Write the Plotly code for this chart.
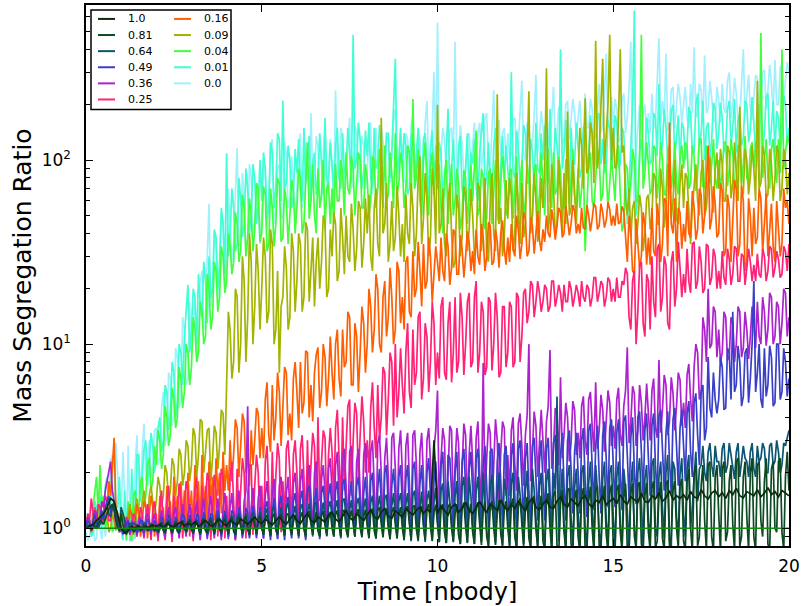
import numpy as np
import plotly.graph_objects as go

# snapshot times [nbody units]: the 1.0 run is stored every 0.1, the rest every 0.05
TIME_COARSE = np.round(np.arange(201) * 0.1, 2)
TIME_FINE = np.round(np.arange(401) * 0.05, 2)

# legend labels and line colours
LABELS = ["1.0", "0.81", "0.64", "0.49", "0.36", "0.25",
          "0.16", "0.09", "0.04", "0.01", "0.0"]
COLORS = ["#0a2a0c", "#0c4a22", "#0c5572", "#3a3fc8", "#ad22cf", "#ff2277",
          "#ff5f00", "#a3b400", "#40ff3c", "#40ffd4", "#a0f0ff"]

# mass segregation ratio of each run, one row per nbody time unit
s100 = [1.0, 1.02, 1.05, 1.1, 1.15, 1.2, 1.3, 1.45, 1.4, 1.2,
        1.0, 0.94, 0.97, 1.02, 1.0, 1.03, 0.99, 1.02, 1.01, 1.04,
        1.02, 1.05, 1.0, 1.06, 1.03, 1.01, 1.05, 1.08, 1.03, 1.06,
        1.04, 1.08, 1.02, 1.06, 1.1, 1.05, 1.02, 1.08, 1.12, 1.06,
        1.03, 1.1, 1.07, 1.04, 1.12, 1.08, 1.05, 1.1, 1.15, 1.09,
        1.06, 1.12, 1.08, 1.04, 1.1, 1.15, 1.09, 1.05, 1.12, 1.18,
        1.1, 1.06, 1.14, 1.2, 1.1, 1.07, 1.15, 1.12, 1.08, 1.18,
        1.22, 1.12, 1.08, 1.16, 1.25, 1.14, 1.1, 1.2, 1.15, 1.1,
        1.18, 1.26, 1.15, 1.12, 1.22, 1.28, 1.16, 1.13, 1.24, 1.2,
        1.15, 1.28, 1.22, 1.18, 1.25, 1.3, 1.2, 1.27, 1.22, 3.0,
        1.2, 1.32, 1.25, 1.18, 1.3, 1.35, 1.22, 1.28, 1.38, 1.25,
        1.2, 1.3, 1.4, 1.28, 1.22, 1.35, 1.3, 1.25, 1.42, 1.3,
        1.25, 1.35, 1.28, 1.4, 1.32, 1.24, 1.38, 1.45, 1.3, 1.26,
        1.35, 1.42, 1.3, 1.28, 1.4, 1.48, 1.35, 1.3, 1.44, 1.38,
        1.32, 1.45, 1.5, 1.36, 1.3, 1.42, 1.38, 1.5, 1.34, 1.4,
        1.45, 1.36, 1.52, 1.4, 1.35, 1.48, 1.42, 1.38, 1.55, 1.4,
        1.38, 1.5, 1.44, 1.56, 1.4, 1.46, 1.6, 1.42, 1.5, 1.45,
        1.52, 1.42, 1.58, 1.48, 1.45, 1.62, 1.5, 1.44, 1.55, 1.6,
        1.48, 1.56, 1.45, 1.6, 1.52, 1.65, 1.5, 1.46, 1.58, 1.54,
        1.5, 1.62, 1.48, 1.55, 1.66, 1.52, 1.58, 1.48, 1.6, 1.55, 1.5]

s081 = [
    1.0, 1.01, 1.02, 1.04, 1.05, 1.02, 1.0, 1.06, 1.1, 1.08, 1.05, 1.12, 1.2, 1.28, 1.3, 1.35, 1.25, 1.1, 1.0, 0.97,
    1.2, 1.05, 0.95, 0.93, 0.98, 1.02, 1.0, 0.96, 0.97, 1.03, 1.02, 0.97, 0.99, 1.04, 1.03, 0.97, 0.98, 1.04, 1.01, 0.97,
    1.0, 0.95, 1.04, 1.07, 0.97, 0.94, 1.06, 1.09, 0.99, 0.95, 1.03, 1.08, 0.96, 0.94, 1.05, 1.1, 1.0, 0.95, 1.08, 1.1,
    0.98, 0.94, 1.06, 1.1, 1.0, 0.93, 1.1, 1.12, 0.97, 0.94, 1.05, 1.11, 1.02, 0.93, 1.08, 1.13, 0.99, 0.94, 1.07, 1.12,
    1.0, 0.93, 1.1, 1.14, 0.96, 0.92, 1.08, 1.15, 1.02, 0.93, 1.12, 1.16, 0.98, 0.92, 1.06, 1.14, 1.03, 0.93, 1.1, 1.17,
    0.99, 0.92, 1.12, 1.18, 1.02, 0.91, 1.15, 1.2, 0.97, 0.92, 1.1, 1.19, 1.04, 0.91, 1.18, 1.2, 1.0, 0.92, 1.08, 1.18,
    1.02, 0.91, 1.15, 1.22, 0.98, 0.9, 1.2, 1.24, 1.05, 0.92, 1.1, 1.22, 0.96, 0.9, 1.17, 1.24, 1.03, 0.91, 1.12, 1.23,
    1.0, 0.9, 1.18, 1.25, 1.04, 0.9, 1.22, 1.26, 0.98, 0.89, 1.14, 1.25, 1.06, 0.9, 1.2, 1.27, 1.0, 0.89, 1.15, 1.26,
    1.03, 0.88, 1.2, 1.28, 0.97, 0.88, 1.25, 1.3, 1.05, 0.89, 1.16, 1.28, 1.0, 0.87, 1.22, 1.3, 1.04, 0.88, 1.18, 1.3,
    1.0, 0.86, 1.24, 1.32, 1.06, 0.86, 1.3, 1.33, 0.98, 0.85, 1.2, 1.32, 1.05, 0.86, 1.28, 1.35, 1.02, 0.85, 1.22, 1.34,
    1.05, 0.84, 1.25, 1.35, 0.95, 0.83, 1.3, 1.36, 1.0, 0.84, 1.2, 1.35, 0.92, 0.82, 1.28, 1.38, 1.02, 0.83, 1.22, 1.36,
    0.95, 0.82, 1.3, 1.38, 1.05, 0.81, 1.25, 1.4, 0.9, 0.8, 1.32, 1.4, 1.0, 0.81, 1.2, 1.42, 0.93, 0.8, 1.28, 1.4,
    1.0, 0.8, 1.35, 1.45, 0.9, 0.78, 1.3, 1.46, 1.05, 0.8, 1.25, 1.48, 0.88, 0.78, 1.4, 1.5, 0.98, 0.79, 1.3, 1.5,
    0.85, 0.76, 1.4, 1.55, 1.0, 0.75, 1.5, 1.6, 0.8, 0.74, 1.35, 1.62, 0.95, 0.76, 1.6, 1.65, 0.82, 0.75, 1.45, 1.62,
    0.9, 0.74, 1.5, 1.65, 0.78, 0.75, 1.4, 1.68, 1.0, 0.74, 1.6, 1.7, 0.8, 0.76, 1.45, 1.7, 0.92, 0.74, 1.55, 1.72,
    0.8, 0.74, 1.6, 1.72, 0.95, 0.75, 1.45, 1.74, 0.76, 0.74, 1.55, 1.75, 1.0, 0.76, 1.7, 1.78, 0.82, 0.74, 1.5, 1.76,
    0.95, 0.76, 1.65, 1.8, 0.78, 0.85, 1.5, 1.78, 0.88, 0.76, 1.75, 1.82, 0.8, 0.9, 1.6, 1.8, 1.0, 0.78, 1.7, 1.85,
    0.85, 0.76, 1.8, 2.1, 1.0, 0.75, 2.0, 2.2, 0.8, 0.9, 1.7, 2.2, 1.1, 0.76, 2.2, 2.3, 0.9, 0.75, 1.9, 2.2,
    1.2, 0.75, 2.1, 2.3, 0.85, 0.95, 1.8, 2.2, 1.05, 0.76, 2.3, 2.4, 0.8, 0.9, 1.9, 2.3, 1.15, 0.76, 2.0, 2.4,
    0.9, 0.76, 2.2, 2.3, 1.1, 0.9, 1.8, 2.4, 0.82, 0.75, 2.1, 2.3, 1.0, 0.95, 2.3, 2.4, 0.95, 0.76, 1.9, 2.6, 1.6]

s064 = [
    1.0, 1.03, 1.05, 0.98, 1.0, 1.08, 1.1, 1.0, 1.05, 1.15, 1.2, 1.25, 1.3, 1.2, 1.15, 1.3, 1.4, 1.2, 1.1, 0.97,
    1.3, 1.2, 1.1, 0.95, 1.0, 1.06, 1.05, 0.95, 0.98, 1.04, 1.02, 0.96, 1.0, 1.07, 1.05, 0.97, 1.0, 1.06, 1.03, 0.96,
    1.0, 0.95, 1.04, 1.08, 0.98, 0.94, 1.06, 1.1, 1.0, 0.95, 1.03, 1.09, 0.97, 0.94, 1.05, 1.1, 1.01, 0.95, 1.07, 1.12,
    1.02, 0.94, 1.08, 1.12, 1.0, 0.93, 1.06, 1.14, 0.98, 0.93, 1.1, 1.15, 1.03, 0.94, 1.07, 1.16, 1.0, 0.93, 1.12, 1.18,
    1.04, 0.94, 1.1, 1.18, 1.0, 0.92, 1.14, 1.2, 1.05, 0.94, 1.08, 1.2, 1.02, 0.92, 1.15, 1.22, 1.06, 0.94, 1.1, 1.22,
    1.08, 0.93, 1.2, 1.28, 1.02, 0.92, 1.25, 1.3, 1.1, 0.94, 1.15, 1.3, 1.0, 0.92, 1.3, 1.35, 1.12, 0.94, 1.18, 1.32,
    1.1, 0.93, 1.28, 1.35, 1.05, 0.92, 1.22, 1.36, 1.15, 0.95, 1.35, 1.38, 1.08, 0.92, 1.2, 1.38, 1.12, 0.94, 1.3, 1.4,
    1.15, 0.92, 1.3, 1.42, 1.05, 0.9, 1.4, 1.45, 1.12, 0.93, 1.25, 1.42, 1.1, 0.9, 1.35, 1.46, 1.18, 0.92, 1.28, 1.45,
    1.12, 0.9, 1.38, 1.5, 1.08, 0.88, 1.3, 1.5, 1.2, 0.9, 1.45, 1.52, 1.1, 0.87, 1.32, 1.55, 1.15, 0.88, 1.4, 1.55,
    1.2, 0.86, 1.35, 1.55, 1.1, 0.85, 1.5, 1.6, 1.15, 0.87, 1.3, 1.58, 1.05, 0.84, 1.42, 1.6, 1.22, 0.86, 1.38, 1.65,
    1.1, 0.84, 1.6, 1.75, 1.0, 0.83, 1.8, 1.4, 1.2, 0.85, 1.5, 1.8, 0.95, 0.82, 1.7, 1.9, 1.15, 0.84, 1.9, 1.5,
    1.05, 0.82, 1.6, 1.9, 1.2, 0.84, 2.0, 1.4, 0.98, 0.8, 1.7, 1.95, 1.25, 0.83, 1.55, 2.0, 1.0, 0.81, 1.85, 1.6,
    1.15, 0.8, 1.75, 2.0, 0.95, 0.78, 1.9, 1.5, 1.2, 0.82, 1.6, 2.05, 1.05, 0.8, 2.1, 1.6, 1.1, 0.79, 1.7, 2.0,
    1.0, 0.78, 1.8, 2.1, 1.25, 0.8, 2.0, 1.6, 5.2, 0.85, 1.5, 2.1, 1.05, 0.78, 1.9, 2.2, 1.15, 0.8, 1.65, 2.1,
    1.2, 0.78, 2.0, 2.2, 1.0, 0.77, 1.75, 2.3, 1.3, 0.8, 2.2, 1.6, 0.95, 0.78, 1.85, 2.3, 1.1, 0.8, 2.0, 2.2,
    1.15, 0.78, 1.9, 2.3, 1.05, 0.8, 2.1, 1.6, 1.25, 0.78, 1.7, 2.3, 0.9, 0.79, 2.0, 2.4, 1.2, 0.8, 1.85, 2.2,
    1.1, 0.85, 2.2, 2.4, 1.0, 0.9, 1.9, 2.3, 1.3, 0.88, 2.0, 2.5, 0.85, 0.78, 2.3, 2.1, 1.15, 0.9, 1.95, 2.4,
    1.2, 0.9, 2.1, 2.5, 1.0, 1.3, 1.9, 2.6, 1.4, 2.1, 2.2, 2.8, 2.0, 1.8, 2.6, 2.9, 2.2, 1.9, 2.8, 2.3,
    2.3, 1.9, 2.7, 2.9, 2.0, 2.2, 2.9, 2.5, 2.2, 1.85, 2.6, 2.9, 1.9, 2.3, 2.8, 2.4, 2.3, 1.9, 2.6, 2.9,
    2.1, 1.9, 2.8, 2.3, 2.4, 2.9, 2.7, 2.0, 2.0, 2.8, 2.9, 2.2, 2.3, 3.0, 2.6, 2.0, 2.2, 2.9, 2.8, 3.1, 3.4]

s049 = [
    1.0, 1.1, 1.05, 0.97, 1.1, 1.2, 1.0, 1.05, 1.15, 1.25, 1.1, 1.3, 1.4, 1.5, 1.2, 1.35, 1.3, 1.1, 1.1, 0.98,
    1.0, 0.93, 0.95, 1.05, 1.1, 0.96, 1.0, 1.08, 1.05, 0.94, 0.98, 1.1, 1.1, 0.95, 1.02, 1.12, 1.08, 0.96, 1.0, 1.1,
    1.05, 0.94, 0.98, 1.15, 1.1, 0.95, 1.02, 1.18, 1.12, 0.93, 1.0, 1.15, 1.08, 0.94, 1.04, 1.2, 1.15, 0.95, 1.0, 1.18,
    1.08, 0.93, 1.02, 1.2, 1.15, 0.92, 1.05, 1.22, 1.1, 0.9, 0.98, 1.2, 1.18, 0.92, 1.06, 1.25, 1.12, 0.9, 1.03, 1.24,
    1.1, 0.9, 1.04, 1.25, 1.2, 0.88, 1.08, 1.3, 1.15, 0.9, 1.0, 1.28, 1.22, 0.88, 1.1, 1.32, 1.16, 0.9, 1.05, 1.3,
    1.12, 0.88, 1.3, 1.4, 1.05, 0.86, 1.25, 1.45, 1.1, 0.87, 1.35, 1.5, 1.08, 0.86, 1.28, 1.48, 1.15, 0.88, 1.4, 1.55,
    1.2, 0.88, 1.45, 1.6, 1.1, 0.86, 1.6, 1.7, 1.25, 0.9, 1.4, 1.65, 1.15, 0.87, 1.55, 1.7, 1.3, 0.9, 1.5, 1.75,
    1.25, 0.9, 1.6, 1.8, 1.15, 0.88, 1.75, 1.85, 1.3, 0.92, 1.5, 1.8, 1.2, 0.9, 1.7, 1.9, 1.35, 0.92, 1.55, 1.9,
    1.3, 0.9, 1.8, 2.0, 1.2, 0.88, 1.65, 2.1, 1.4, 0.92, 2.0, 2.2, 1.25, 0.9, 1.7, 2.1, 1.45, 0.94, 1.9, 2.2,
    1.35, 0.92, 1.85, 2.2, 1.3, 0.9, 2.1, 2.3, 1.4, 0.95, 1.75, 2.2, 1.3, 0.92, 2.0, 2.4, 1.5, 0.96, 1.8, 2.3,
    1.5, 0.95, 2.2, 2.6, 1.35, 0.92, 2.5, 2.4, 1.6, 0.98, 2.0, 2.6, 1.4, 0.94, 2.3, 2.7, 1.7, 1.0, 2.1, 2.6,
    1.6, 0.96, 2.4, 2.7, 1.45, 0.94, 2.2, 2.8, 1.7, 1.0, 2.6, 2.7, 1.5, 0.96, 2.3, 2.9, 1.8, 1.02, 2.5, 2.8,
    1.7, 1.0, 2.5, 2.9, 1.5, 0.97, 2.7, 3.0, 1.8, 1.05, 2.4, 2.9, 1.6, 1.0, 2.8, 3.1, 1.9, 1.1, 2.3, 3.0,
    1.8, 1.1, 2.7, 3.1, 1.6, 1.05, 2.9, 3.2, 2.0, 1.15, 2.5, 3.3, 1.7, 1.1, 3.0, 3.4, 2.1, 1.2, 2.6, 3.3,
    2.0, 1.2, 3.0, 3.5, 1.8, 1.15, 3.4, 3.7, 2.2, 1.25, 2.8, 3.6, 1.9, 1.2, 3.2, 3.8, 2.4, 1.3, 3.5, 3.9,
    2.2, 1.3, 3.3, 3.9, 2.0, 1.25, 3.8, 4.1, 2.5, 1.4, 3.1, 4.0, 2.1, 1.35, 4.0, 4.3, 2.6, 1.5, 3.4, 4.2,
    2.4, 1.5, 3.6, 4.2, 2.2, 1.45, 4.1, 4.4, 2.7, 1.6, 3.3, 4.3, 2.3, 1.55, 3.9, 4.5, 2.8, 1.7, 3.5, 4.4,
    2.8, 1.8, 4.2, 4.9, 2.6, 1.9, 4.8, 5.4, 3.2, 2.2, 5.5, 6.0, 3.0, 3.5, 8.5, 4.5, 4.0, 7.0, 5.0, 4.2,
    5.0, 8.5, 7.5, 4.4, 4.5, 9.5, 9.0, 5.0, 15, 5.5, 6.0, 9.8, 8.0, 4.6, 5.2, 9.0, 9.5, 4.8, 6.5, 10,
    22, 5.5, 7.0, 10, 5.0, 4.5, 9.5, 5.2, 6.0, 9.8, 8.5, 4.6, 4.8, 10, 10, 5.0, 5.5, 9.5, 8.0, 5.2, 6.5]

s036 = [
    1.0, 1.15, 1.1, 0.98, 1.05, 1.25, 1.2, 1.05, 1.1, 1.4, 1.3, 1.6, 1.8, 2.1, 2.3, 1.6, 1.4, 1.2, 1.1, 0.95,
    1.0, 0.95, 1.05, 1.1, 1.0, 0.93, 1.1, 1.05, 1.05, 0.92, 1.1, 1.15, 1.0, 0.9, 1.15, 1.2, 1.05, 0.92, 1.1, 1.2,
    1.0, 0.9, 1.1, 1.25, 1.05, 0.88, 1.15, 1.3, 1.0, 0.9, 1.2, 1.3, 1.1, 0.88, 1.15, 1.35, 1.05, 0.9, 1.2, 1.35,
    1.1, 0.88, 1.2, 1.4, 1.05, 0.86, 1.25, 1.45, 1.1, 0.87, 1.3, 1.5, 1.15, 0.88, 1.2, 1.45, 1.1, 0.86, 1.3, 1.55,
    1.15, 0.87, 1.3, 1.55, 1.1, 0.86, 1.35, 1.6, 1.2, 0.88, 1.4, 1.6, 4.6, 0.9, 1.3, 1.65, 1.25, 0.88, 1.45, 1.7,
    1.2, 0.88, 1.5, 1.8, 1.3, 0.9, 1.6, 1.85, 1.25, 0.88, 1.7, 1.9, 1.35, 0.92, 1.55, 1.9, 1.3, 0.9, 1.75, 2.0,
    1.4, 0.9, 1.8, 2.1, 1.3, 0.88, 1.9, 2.2, 1.5, 0.92, 2.0, 2.3, 1.45, 0.9, 1.85, 2.2, 1.6, 0.95, 2.1, 2.4,
    1.6, 0.92, 2.2, 2.6, 1.5, 0.9, 2.4, 2.7, 1.7, 0.95, 2.6, 2.8, 1.8, 0.93, 2.3, 2.7, 1.6, 0.95, 2.5, 2.9,
    1.8, 0.95, 2.6, 3.0, 1.7, 0.92, 2.9, 3.2, 2.0, 1.0, 2.4, 3.1, 1.9, 0.96, 3.1, 3.3, 2.1, 1.0, 2.7, 3.4,
    2.0, 1.0, 2.8, 3.3, 1.8, 0.96, 3.2, 3.4, 2.2, 1.05, 2.6, 3.3, 1.9, 1.0, 3.0, 3.5, 2.3, 1.1, 2.7, 3.4,
    5.6, 1.3, 2.4, 3.5, 3.0, 1.1, 2.0, 3.6, 3.4, 1.2, 2.2, 3.5, 2.9, 1.15, 2.1, 3.7, 3.2, 1.25, 2.5, 3.6,
    2.3, 1.2, 3.1, 3.8, 2.0, 1.3, 7.9, 1.4, 2.4, 3.7, 3.3, 1.25, 2.2, 3.9, 3.0, 1.35, 2.6, 3.8, 3.5, 1.5,
    2.5, 1.5, 3.4, 4.0, 2.2, 1.6, 3.7, 4.2, 2.8, 1.7, 3.2, 4.1, 10, 1.8, 2.6, 4.3, 3.6, 1.9, 2.9, 4.4,
    3.0, 2.0, 3.8, 4.6, 9.3, 2.1, 2.7, 4.5, 4.2, 2.2, 6.6, 2.4, 3.2, 4.8, 4.0, 2.3, 2.9, 4.9, 4.4, 2.5,
    3.3, 2.4, 4.6, 5.2, 3.0, 2.5, 5.0, 5.5, 3.6, 2.6, 6.2, 2.7, 3.4, 5.3, 4.4, 2.6, 3.8, 5.6, 4.8, 2.8,
    3.6, 2.7, 5.0, 5.8, 3.2, 2.8, 4.6, 5.6, 9.6, 2.9, 3.8, 5.9, 5.4, 2.8, 3.4, 6.0, 4.8, 3.0, 4.0, 6.1,
    4.2, 3.0, 5.6, 6.5, 3.5, 3.1, 8.2, 3.3, 4.4, 6.8, 6.0, 3.2, 3.8, 6.6, 5.4, 3.4, 4.6, 7.0, 6.4, 3.6,
    4.8, 3.5, 6.8, 7.8, 5.0, 3.8, 7.5, 10, 9.0, 5.0, 5.5, 14, 12, 8.0, 20, 9.5, 10, 16, 15, 8.5,
    12, 8.0, 9.0, 15, 14, 8.2, 8.5, 14, 13, 8.0, 10, 16, 15, 8.5, 9.5, 15, 12, 8.3, 11, 16,
    13, 9.5, 17, 11, 10, 18, 15, 9.8, 12, 19, 18, 10, 11, 17, 16, 10, 13, 20, 19, 11, 14]

s025 = [
    1.0, 1.2, 1.1, 1.45, 1.2, 1.0, 1.1, 1.35, 1.3, 1.05, 1.2, 1.5, 1.4, 1.1, 1.1, 1.3, 1.3, 1.0, 1.0, 1.15,
    1.0, 0.95, 1.05, 1.15, 1.1, 0.92, 1.0, 1.2, 1.15, 0.9, 1.05, 1.3, 1.2, 0.88, 1.1, 1.35, 1.15, 0.86, 1.25, 1.4,
    1.1, 0.85, 1.3, 1.6, 1.0, 0.86, 1.4, 1.7, 1.15, 0.84, 1.5, 1.0, 1.2, 1.75, 1.4, 0.88, 1.3, 1.8, 1.6, 0.9,
    1.3, 0.85, 1.6, 1.9, 1.2, 0.87, 1.7, 1.0, 1.4, 2.0, 1.8, 0.86, 1.3, 1.95, 1.6, 0.9, 1.5, 2.1, 1.9, 0.88,
    1.5, 0.9, 1.9, 2.3, 1.4, 0.86, 2.1, 1.1, 1.6, 2.4, 2.0, 0.88, 1.5, 2.2, 2.2, 0.92, 1.7, 2.5, 2.0, 1.0,
    1.7, 0.95, 2.3, 2.8, 1.6, 0.9, 2.6, 1.2, 1.9, 2.9, 2.4, 0.95, 1.8, 1.1, 2.7, 3.0, 2.0, 1.0, 2.5, 3.0,
    2.0, 1.05, 2.7, 3.2, 1.9, 1.0, 3.0, 1.3, 2.2, 3.3, 2.8, 1.1, 4.0, 1.4, 2.3, 3.4, 3.1, 1.2, 2.5, 3.5,
    2.6, 1.4, 3.5, 4.4, 2.4, 1.3, 4.0, 1.6, 2.8, 4.6, 5.0, 1.5, 3.0, 4.8, 4.2, 1.8, 3.2, 5.2, 3.8, 2.0,
    3.0, 2.0, 4.5, 6.2, 3.5, 2.4, 6.0, 3.0, 4.0, 7.5, 7.0, 3.2, 5.0, 9.0, 8.0, 3.6, 10, 4.0, 5.5, 9.5,
    6.0, 4.2, 9.0, 13, 5.5, 4.5, 12, 6.0, 7.0, 14, 15, 5.0, 6.5, 13, 11, 5.5, 8.0, 17, 13, 6.0,
    9.0, 6.5, 16, 18, 7.0, 6.4, 13, 17, 6.2, 9.0, 18, 7.0, 8.0, 19, 14, 6.8, 10, 17, 19, 7.5,
    8.0, 18, 22, 7.0, 9.0, 17, 15, 6.8, 7.5, 18, 17, 7.2, 10, 19, 14, 6.6, 7.0, 16, 16, 7.5,
    9.0, 17, 16, 7.5, 8.0, 19, 18, 8.0, 11, 19, 20, 13, 15, 22, 21, 14, 17, 22, 19, 15,
    17, 21, 20, 15, 16, 22, 22, 16, 18, 21, 19, 15, 21, 17, 17, 22, 20, 16, 18, 21,
    19, 16, 22, 18, 17, 21, 20, 16, 18, 23, 23, 17, 19, 22, 21, 16, 18, 23, 22, 17,
    20, 17, 23, 18, 18, 22, 21, 26, 24, 14, 12, 22, 25, 10, 15, 27, 28, 13, 11, 24,
    22, 12, 30, 17, 14, 33, 35, 15, 18, 30, 27, 13, 12, 28, 32, 16, 20, 36, 26, 18,
    24, 19, 33, 22, 19, 35, 36, 20, 22, 34, 28, 19, 20, 35, 34, 21, 23, 33, 30, 20,
    25, 20, 32, 23, 21, 33, 29, 21, 24, 34, 33, 22, 22, 31, 30, 21, 26, 33, 28, 22,
    27, 22, 31, 24, 23, 33, 30, 22, 25, 34, 33, 23, 26, 32, 29, 23, 24, 34, 32, 25, 35]

s016 = [
    1.0, 1.15, 1.1, 0.95, 1.0, 1.3, 1.2, 1.0, 1.1, 1.4, 1.3, 1.1, 1.2, 1.8, 1.5, 2.2, 3.1, 1.3, 1.2, 0.95,
    1.0, 1.1, 1.1, 0.95, 1.0, 1.25, 1.2, 0.92, 1.1, 1.35, 1.2, 0.9, 1.1, 1.4, 1.3, 0.88, 1.2, 1.5, 1.3, 0.9,
    1.2, 0.86, 1.5, 1.0, 1.3, 0.88, 1.7, 1.1, 1.4, 0.9, 1.9, 1.2, 1.5, 0.92, 1.8, 1.15, 1.6, 0.95, 2.0, 1.2,
    1.6, 1.0, 2.2, 1.2, 1.8, 0.92, 2.5, 1.3, 1.7, 1.05, 2.3, 1.4, 1.9, 1.1, 2.4, 1.5, 2.0, 1.2, 2.6, 1.6,
    2.2, 1.6, 3.0, 1.8, 2.5, 3.9, 3.5, 1.9, 2.8, 4.2, 3.8, 2.0, 2.6, 1.7, 3.4, 2.2, 3.0, 4.5, 4.2, 2.4,
    3.5, 2.4, 5.0, 6.2, 3.2, 2.6, 6.0, 3.0, 4.0, 7.0, 5.5, 2.8, 4.5, 7.5, 7.0, 3.2, 4.2, 3.0, 6.5, 8.0,
    5.5, 3.5, 8.0, 4.2, 4.8, 9.2, 9.0, 4.0, 6.0, 3.8, 7.0, 8.8, 9.6, 4.5, 5.5, 10, 8.5, 4.6, 6.5, 11,
    7.0, 5.0, 10, 12, 6.5, 5.2, 12, 7.5, 8.0, 15, 14, 6.0, 6.0, 13, 11, 5.5, 9.0, 16, 13, 7.0,
    10, 20, 16, 9.0, 12, 24, 20, 10, 9.0, 18, 22, 11, 14, 26, 18, 10, 12, 28, 25, 13,
    18, 12, 28, 30, 15, 14, 32, 18, 20, 36, 25, 16, 35, 20, 22, 38, 30, 17, 24, 34,
    28, 22, 38, 25, 22, 40, 34, 21, 26, 42, 40, 24, 24, 39, 33, 23, 30, 41, 36, 25,
    32, 24, 42, 30, 27, 45, 38, 25, 30, 46, 44, 27, 28, 42, 36, 26, 40, 47, 33, 27,
    38, 28, 45, 33, 30, 50, 42, 29, 35, 52, 48, 30, 32, 49, 44, 31, 40, 53, 37, 32,
    42, 36, 50, 40, 38, 54, 46, 37, 44, 55, 52, 38, 40, 56, 48, 39, 45, 57, 53, 40,
    45, 40, 55, 43, 42, 57, 50, 41, 48, 58, 56, 42, 44, 58, 52, 43, 47, 59, 54, 44,
    50, 44, 58, 45, 46, 56, 53, 40, 28, 50, 40, 25, 24, 48, 35, 26, 30, 52, 45, 27,
    38, 27, 55, 32, 30, 58, 48, 28, 35, 62, 60, 30, 160, 45, 40, 62, 28, 55, 52, 33,
    45, 36, 60, 40, 38, 68, 55, 37, 42, 70, 65, 40, 50, 75, 120, 42, 48, 72, 58, 38,
    40, 75, 68, 30, 32, 65, 55, 28, 45, 78, 70, 30, 35, 72, 60, 25, 28, 62, 50, 30,
    55, 35, 38, 70, 62, 32, 45, 66, 30, 40, 58, 34, 28, 60, 42, 30, 35, 70, 55, 60, 45]

s009 = [
    1.0, 1.15, 1.1, 0.95, 1.2, 1.3, 1.0, 1.1, 1.3, 1.05, 1.1, 1.25, 1.2, 0.95, 1.0, 1.2, 1.1, 0.97, 1.2, 1.05,
    1.0, 1.2, 1.1, 0.95, 1.2, 1.35, 1.1, 1.0, 1.3, 1.45, 1.2, 1.05, 1.4, 1.6, 1.3, 1.1, 1.5, 1.7, 1.4, 1.2,
    1.4, 1.9, 1.7, 1.3, 1.5, 2.2, 2.0, 1.4, 1.6, 2.4, 2.2, 1.5, 1.8, 2.7, 2.5, 1.7, 2.0, 3.0, 2.8, 1.8,
    2.2, 3.5, 3.2, 1.9, 2.5, 3.9, 3.8, 2.0, 2.6, 3.4, 3.5, 1.8, 2.4, 3.6, 3.3, 2.1, 2.8, 4.4, 4.2, 2.5,
    6.0, 15, 12, 6.5, 8.0, 20, 18, 7.0, 10, 30, 22, 8.0, 14, 40, 28, 10, 16, 35, 25, 12,
    20, 38, 30, 13, 15, 42, 35, 10, 12, 25, 7.0, 16, 18, 34, 26, 12, 14, 40, 32, 15,
    22, 40, 35, 15, 18, 46, 42, 17, 25, 38, 16, 28, 38, 20, 28, 50, 45, 18, 20, 42,
    30, 52, 45, 22, 25, 55, 38, 24, 50, 30, 28, 58, 42, 25, 33, 60, 55, 26, 35, 62,
    40, 65, 30, 25, 55, 70, 35, 30, 170, 40, 45, 75, 28, 35, 60, 32, 38, 72, 50, 30,
    45, 28, 65, 40, 35, 75, 55, 30, 40, 80, 105, 35, 48, 85, 60, 30, 38, 90, 70, 35,
    200, 40, 45, 70, 35, 30, 60, 75, 40, 26, 28, 65, 55, 30, 38, 72, 65, 32, 42, 70,
    50, 30, 35, 75, 70, 32, 45, 80, 30, 28, 60, 85, 40, 32, 228, 45, 55, 30, 38, 78,
    48, 80, 65, 32, 40, 85, 55, 35, 75, 38, 45, 90, 237, 40, 50, 85, 60, 36, 42, 80,
    55, 90, 316, 42, 50, 95, 70, 40, 45, 100, 60, 40, 85, 45, 184, 50, 55, 100, 65, 45,
    80, 150, 120, 70, 217, 85, 90, 160, 140, 75, 445, 90, 110, 180, 355, 95, 130, 200, 480, 100,
    150, 90, 95, 170, 400, 110, 120, 60, 50, 70, 38, 55, 60, 35, 45, 65, 55, 32, 40, 62,
    65, 42, 50, 85, 80, 45, 45, 90, 70, 43, 55, 95, 90, 48, 60, 100, 48, 45, 75, 95,
    55, 85, 80, 50, 35, 55, 70, 95, 60, 50, 85, 100, 50, 55, 75, 105, 65, 52, 90, 110,
    70, 115, 95, 60, 60, 120, 110, 62, 75, 125, 85, 60, 195, 70, 65, 115, 100, 65, 80, 120,
    90, 60, 270, 70, 75, 120, 105, 62, 65, 115, 95, 60, 80, 120, 110, 60, 70, 115, 100, 65, 85]

s004 = [
    1.0, 1.15, 1.1, 1.0, 1.3, 1.6, 1.9, 1.2, 2.2, 1.3, 1.5, 1.0, 1.1, 1.4, 1.3, 0.95, 1.0, 1.25, 1.2, 1.0,
    0.95, 1.2, 1.1, 0.86, 1.4, 1.0, 0.85, 1.5, 1.6, 0.9, 1.2, 1.8, 1.9, 1.3, 1.5, 2.2, 2.4, 1.6, 1.8, 2.8,
    2.2, 3.4, 3.0, 2.1, 2.5, 4.6, 4.0, 2.8, 3.2, 5.8, 5.0, 3.5, 4.0, 7.5, 6.5, 4.5, 5.5, 10, 9.0, 6.0,
    7.5, 14, 12, 8.0, 9.0, 17, 15, 10, 11, 24, 20, 12, 14, 28, 25, 15, 18, 34, 30, 19,
    22, 40, 35, 24, 28, 52, 45, 28, 32, 65, 55, 30, 38, 62, 50, 32, 42, 75, 70, 36,
    40, 72, 65, 32, 35, 70, 55, 34, 45, 80, 75, 36, 38, 70, 60, 35, 50, 78, 68, 40,
    55, 90, 80, 40, 45, 85, 125, 48, 60, 95, 50, 40, 90, 55, 65, 100, 42, 70, 75, 45,
    70, 45, 95, 60, 60, 100, 85, 50, 110, 70, 65, 105, 90, 50, 75, 110, 100, 55, 55, 95,
    80, 50, 60, 105, 100, 55, 70, 115, 90, 55, 120, 60, 65, 110, 85, 55, 140, 65, 75, 110,
    95, 55, 70, 120, 110, 60, 215, 70, 80, 115, 60, 50, 100, 125, 75, 50, 90, 110, 65, 100,
    70, 95, 55, 40, 85, 100, 45, 70, 95, 50, 60, 90, 75, 42, 50, 88, 80, 45, 65, 95,
    60, 95, 145, 50, 55, 90, 80, 42, 48, 85, 90, 45, 65, 100, 50, 45, 75, 105, 85, 50,
    55, 85, 90, 48, 70, 105, 45, 65, 100, 50, 60, 95, 80, 45, 50, 90, 95, 50, 65, 110,
    75, 50, 95, 115, 60, 55, 110, 65, 70, 105, 85, 55, 55, 100, 100, 58, 80, 115, 65, 55,
    90, 55, 70, 100, 32, 60, 95, 110, 60, 55, 80, 115, 105, 60, 65, 110, 85, 55, 75, 105,
    80, 60, 110, 120, 65, 41, 45, 95, 90, 60, 75, 115, 100, 60, 60, 105, 480, 70, 85, 125,
    95, 65, 70, 120, 115, 62, 80, 125, 100, 65, 65, 115, 120, 70, 85, 125, 75, 65, 105, 120,
    90, 125, 120, 70, 75, 120, 105, 68, 85, 130, 130, 72, 70, 120, 110, 75, 95, 130, 80, 70,
    100, 70, 85, 125, 125, 72, 90, 130, 110, 70, 75, 120, 120, 75, 95, 135, 80, 75, 115, 125,
    90, 125, 120, 75, 490, 80, 100, 130, 80, 70, 115, 130, 95, 75, 130, 85, 400, 90, 110, 135, 125]

s001 = [
    1.0, 1.2, 1.1, 0.9, 0.95, 1.4, 1.3, 1.1, 1.5, 1.0, 1.2, 1.7, 1.9, 1.2, 1.4, 2.5, 2.2, 1.3, 1.3, 1.9,
    1.0, 0.86, 1.6, 1.1, 1.2, 0.85, 2.1, 1.3, 0.88, 2.5, 2.5, 1.4, 1.9, 2.7, 3.0, 1.7, 2.3, 3.3, 2.8, 2.0,
    2.5, 3.5, 4.0, 2.6, 3.0, 6.0, 5.5, 3.4, 4.2, 8.0, 7.0, 4.0, 5.0, 10, 9.0, 6.0, 11, 16, 21, 9.0,
    12, 20, 18, 10, 24, 16, 14, 28, 22, 13, 30, 18, 20, 42, 38, 20, 28, 55, 45, 24,
    109, 30, 40, 70, 55, 32, 35, 80, 62, 38, 45, 90, 70, 40, 50, 95, 80, 45, 58, 100,
    60, 110, 90, 48, 55, 125, 110, 55, 70, 140, 130, 60, 210, 70, 75, 120, 100, 55, 65, 115,
    85, 130, 70, 60, 150, 75, 90, 135, 60, 95, 110, 65, 80, 140, 100, 65, 170, 80, 75, 125,
    95, 65, 120, 150, 80, 70, 140, 85, 90, 150, 110, 75, 480, 90, 100, 160, 130, 70, 85, 145,
    105, 160, 80, 70, 150, 90, 95, 155, 120, 75, 85, 140, 140, 80, 110, 180, 355, 85, 100, 150,
    90, 140, 120, 65, 70, 135, 140, 75, 100, 150, 85, 60, 130, 140, 95, 65, 110, 145, 75, 120,
    80, 125, 110, 60, 65, 115, 190, 70, 90, 130, 75, 55, 120, 135, 70, 60, 100, 140, 60, 110,
    95, 130, 70, 60, 110, 140, 180, 70, 80, 125, 65, 60, 120, 150, 85, 65, 100, 135, 75, 120,
    90, 65, 300, 85, 80, 145, 120, 70, 95, 155, 140, 75, 75, 130, 110, 70, 160, 90, 85, 140,
    100, 155, 130, 75, 190, 85, 90, 150, 120, 80, 400, 90, 110, 165, 80, 75, 150, 95, 95, 160,
    120, 80, 90, 150, 160, 85, 110, 175, 140, 90, 100, 170, 180, 95, 130, 85, 90, 165, 150, 90,
    110, 175, 160, 90, 95, 150, 140, 80, 45, 70, 120, 200, 650, 50, 60, 110, 130, 85, 100, 170,
    140, 95, 100, 180, 170, 105, 260, 110, 120, 190, 150, 100, 110, 185, 200, 105, 130, 175, 95, 160,
    150, 100, 120, 195, 180, 110, 110, 200, 230, 120, 140, 210, 100, 150, 160, 105, 130, 205, 190, 115,
    140, 205, 170, 110, 120, 190, 210, 120, 150, 215, 110, 165, 180, 120, 130, 210, 200, 125, 145, 220,
    160, 110, 120, 200, 190, 115, 140, 220, 230, 120, 150, 210, 110, 185, 170, 115, 130, 225, 200, 120, 150]

s000 = [
    0.95, 0.86, 0.9, 1.05, 1.1, 0.85, 0.88, 1.15, 1.0, 0.87, 1.2, 0.9, 1.1, 1.5, 2.4, 1.0, 1.3, 2.9, 2.0, 1.2,
    1.1, 2.6, 1.5, 0.85, 2.8, 1.2, 1.3, 0.86, 2.2, 3.2, 1.6, 1.4, 2.6, 3.7, 1.8, 2.4, 3.0, 1.9, 2.2, 3.4,
    3.5, 2.2, 2.4, 4.5, 5.5, 2.8, 3.2, 7.0, 6.5, 3.6, 4.0, 9.5, 8.5, 4.5, 5.0, 14, 12, 6.0, 6.5, 17,
    9.0, 13, 18, 8.0, 11, 22, 25, 12, 14, 30, 58, 16, 20, 40, 35, 18, 24, 50, 45, 22,
    32, 70, 48, 28, 36, 60, 116, 34, 40, 85, 62, 30, 38, 95, 80, 40, 45, 75, 55, 35,
    50, 100, 85, 42, 60, 120, 130, 45, 55, 90, 95, 50, 48, 125, 110, 55, 62, 105, 75, 48,
    70, 115, 140, 55, 65, 125, 100, 60, 180, 80, 72, 135, 120, 58, 60, 110, 150, 65, 85, 130,
    90, 60, 240, 85, 80, 150, 130, 65, 95, 120, 170, 70, 75, 155, 140, 75, 100, 135, 120, 70,
    85, 140, 160, 65, 110, 150, 95, 70, 150, 125, 80, 135, 130, 75, 105, 165, 190, 80, 90, 140,
    110, 75, 140, 130, 85, 155, 175, 80, 100, 145, 130, 70, 90, 160, 210, 85, 120, 150, 300, 95,
    560, 95, 110, 150, 130, 80, 90, 145, 150, 100, 440, 90, 100, 155, 120, 85, 85, 130, 140, 95,
    120, 160, 95, 140, 160, 90, 110, 170, 180, 95, 90, 150, 240, 100, 130, 165, 105, 140, 150, 100,
    140, 100, 110, 165, 170, 105, 125, 180, 270, 110, 100, 160, 150, 115, 120, 175, 290, 110, 135, 185,
    150, 120, 200, 130, 120, 185, 250, 125, 140, 195, 170, 120, 130, 200, 210, 130, 160, 215, 180, 135,
    170, 210, 140, 125, 230, 150, 150, 215, 190, 130, 135, 200, 260, 140, 160, 230, 380, 150, 175, 220,
    150, 215, 190, 125, 130, 210, 230, 140, 170, 250, 440, 90, 60, 110, 150, 200, 120, 180, 200, 140,
    180, 140, 230, 150, 160, 250, 460, 160, 210, 165, 380, 145, 150, 240, 250, 150, 190, 260, 220, 160,
    200, 250, 170, 150, 260, 180, 410, 170, 180, 260, 240, 160, 370, 180, 190, 270, 220, 165, 160, 250,
    210, 160, 260, 190, 180, 270, 300, 170, 200, 280, 230, 160, 170, 260, 400, 175, 240, 290, 190, 165,
    220, 290, 280, 180, 190, 300, 310, 190, 240, 330, 260, 185, 350, 200, 200, 320, 330, 210, 270, 340, 300]

SERIES = [s100, s081, s064, s049, s036, s025, s016, s009, s004, s001, s000]
TIMES = [TIME_COARSE] + [TIME_FINE] * 10
for lab, tt, vals in zip(LABELS, TIMES, SERIES):
    assert len(vals) == len(tt), f"{lab}: {len(vals)} values"

# reference level of an unsegregated cluster
UNITY = [1.0, 1.0]
UNITY_T = [0.0, 20.0]

FONT = "DejaVu Sans"

fig = go.Figure()

# draw the runs from 0.0 up to 1.0 so the slow runs sit on top
for lab, col, tt, vals in reversed(list(zip(LABELS, COLORS, TIMES, SERIES))):
    fig.add_trace(go.Scatter(x=tt, y=vals, mode="lines", name=lab,
                             line=dict(color=col, width=1.7),
                             showlegend=False))

fig.add_trace(go.Scatter(x=UNITY_T, y=UNITY, mode="lines",
                         line=dict(color="#128a12", width=1.5),
                         showlegend=False))

# plot area in pixels
L, R, T, B = 86, 789, 3, 547
W, H = 804, 606


def px(x):
    return (x - L) / (R - L)


def py(y):
    return (B - y) / (B - T)


# legend: two columns inside a framed box at the top left
shapes = [dict(type="rect", xref="paper", yref="paper",
               x0=px(91), x1=px(231), y0=py(108), y1=py(8),
               line=dict(color="black", width=1.5), fillcolor="white",
               layer="above")]
annotations = []
for i, (lab, col) in enumerate(zip(LABELS, COLORS)):
    colidx, row = divmod(i, 6)
    yrow = 17 + row * 16.2
    x0 = 98 if colidx == 0 else 174
    shapes.append(dict(type="line", xref="paper", yref="paper",
                       x0=px(x0), x1=px(x0 + 17), y0=py(yrow), y1=py(yrow),
                       line=dict(color=col, width=2), layer="above"))
    annotations.append(dict(xref="paper", yref="paper",
                            x=px(x0 + 28), y=py(yrow), text=lab,
                            showarrow=False, xanchor="left", yanchor="middle",
                            font=dict(family=FONT, size=11, color="black")))

minor_vals = [0.9] + [m * 10 ** k for k in range(0, 3) for m in range(2, 10)]
minor_vals = [v for v in minor_vals if v < 700]

fig.update_layout(
    width=W, height=H,
    margin=dict(l=L, r=W - R, t=T, b=H - B),
    paper_bgcolor="white", plot_bgcolor="white",
    font=dict(family=FONT, color="black"),
    shapes=shapes, annotations=annotations,
    showlegend=False,
    xaxis=dict(range=[0, 20], tickvals=[0, 5, 10, 15, 20],
               ticks="inside", ticklen=7, tickwidth=1.2, tickcolor="black",
               showline=True, linecolor="black", linewidth=1.5,
               mirror="ticks", showgrid=False, zeroline=False,
               tickfont=dict(family=FONT, size=17),
               ticklabelstandoff=4,
               title=dict(text="Time [nbody]", standoff=10,
                          font=dict(family=FONT, size=24))),
    yaxis=dict(type="log", range=[-0.097, 2.843],
               tickvals=[1, 10, 100],
               ticktext=["10<sup>0</sup>", "10<sup>1</sup>", "10<sup>2</sup>"],
               ticks="inside", ticklen=7, tickwidth=1.2, tickcolor="black",
               minor=dict(ticks="inside", ticklen=4, tickwidth=1,
                          tickcolor="black", tickvals=minor_vals,
                          showgrid=False),
               showline=True, linecolor="black", linewidth=1.5,
               mirror="ticks", showgrid=False, zeroline=False,
               tickfont=dict(family=FONT, size=17),
               ticklabelstandoff=10,
               title=dict(text="Mass Segregation Ratio", standoff=3,
                          font=dict(family=FONT, size=25))),
)

fig.write_html("out.html")
